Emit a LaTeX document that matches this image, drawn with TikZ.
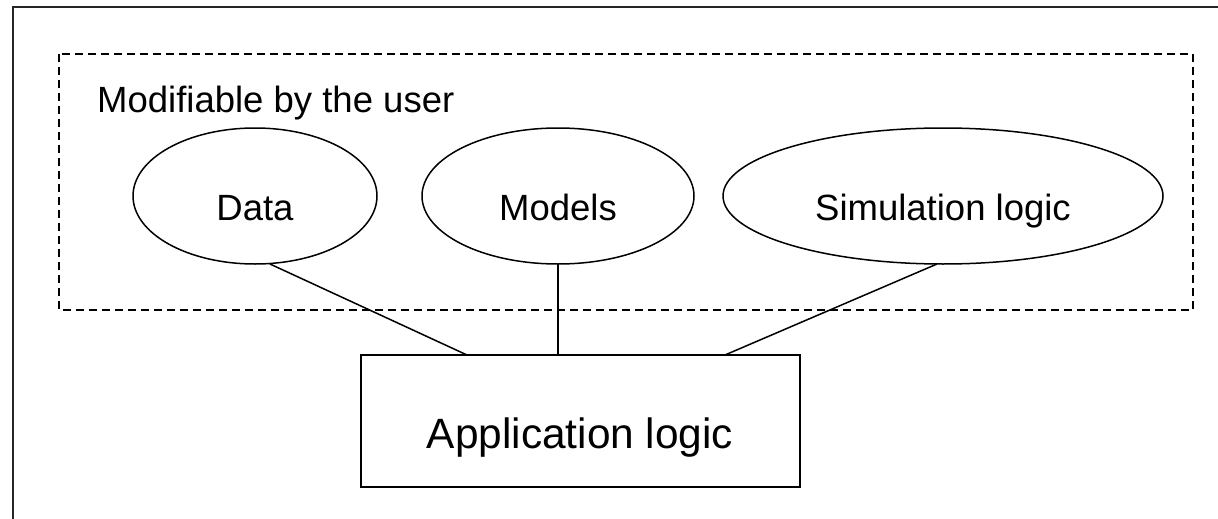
\documentclass[tikz,border=0pt]{standalone}
\usepackage{fontspec}
\setmainfont{Liberation Sans}
\usetikzlibrary{shapes.geometric}
\begin{document}
\begin{tikzpicture}[x=1pt,y=-1pt,
  frameline/.style={line width=2pt,draw=black!85},
  groupbox/.style={draw,line width=1.8pt,dash pattern=on 8pt off 5pt},
  ell/.style={draw,ellipse,line width=1.5pt,inner sep=0pt,minimum height=136pt},
  txt/.style={anchor=base,inner sep=0pt,font=\fontsize{36.5}{44}\selectfont},
  bigtxt/.style={anchor=base,inner sep=0pt,font=\fontsize{42.4}{50}\selectfont},
  boxst/.style={draw,line width=1.8pt,inner sep=0pt,minimum width=439pt,minimum height=132pt},
  conn/.style={line width=1.5pt}]
\useasboundingbox (0,0) rectangle (1218,519);
% outer frame (only left and top sides visible)
\coordinate (fA) at (13,540);
\coordinate (fB) at (13,7.5);
\coordinate (fC) at (1240,7.5);
\draw[frameline] (fA) -- (fB) -- (fC);
% dashed group
\coordinate (gA) at (59,54);
\coordinate (gB) at (1193,310);
\draw[groupbox] (gA) rectangle (gB);
\node[txt,anchor=base west] (mod) at (97,112) {Modifiable by the user};
% ellipses
\node[ell,minimum width=244pt] (data) at (255,196) {};
\node[txt] (datat) at (255,220) {Data};
\node[ell,minimum width=272pt] (models) at (558,196) {};
\node[txt] (modelst) at (558,220) {Models};
\node[ell,minimum width=440pt] (sim) at (943,196) {};
\node[txt] (simt) at (943,220) {Simulation logic};
% application box
\node[boxst] (app) at (580.5,421) {};
\node[bigtxt] (appt) at (580,448) {Application logic};
% connector end points
\coordinate (d1) at (270,264);
\coordinate (m1) at (558,264);
\coordinate (s1) at (937,264);
\coordinate (a1) at (467,355);
\coordinate (a2) at (558,355);
\coordinate (a3) at (725,355);
% connectors
\draw[conn] (d1) -- (a1);
\draw[conn] (m1) -- (a2);
\draw[conn] (s1) -- (a3);
\end{tikzpicture}
\end{document}
